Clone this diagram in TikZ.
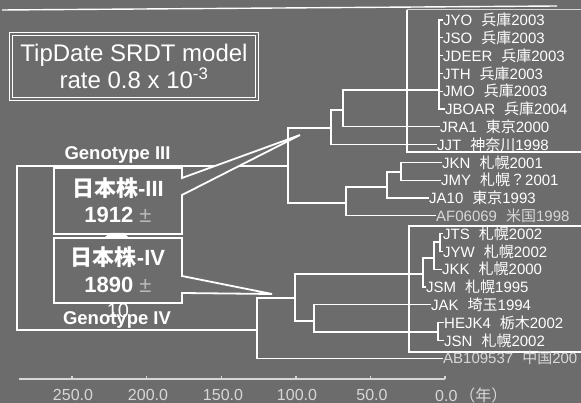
\documentclass[tikz,border=0pt]{standalone}
\usepackage{fontspec}
\setmainfont{Liberation Sans}
\newfontfamily\cjk{Noto Sans CJK JP}
\definecolor{bg}{RGB}{108,108,108}
\definecolor{pmc}{RGB}{185,185,185}
\definecolor{dim}{RGB}{215,215,215}
\newcommand{\gap}{\hspace{9pt}}
\begin{document}
\begin{tikzpicture}[x=1pt,y=-1pt,
  treeline/.style={draw=white, line width=1.1pt},
  boxline/.style={draw=white, line width=1.4pt},
  calloutbox/.style={draw=white, line width=1.8pt, fill=bg, line join=miter},
  leaf/.style={anchor=west, inner sep=0pt, text=white, font=\fontsize{15}{15}\selectfont},
  fadedleaf/.style={leaf, text=dim},
  geno/.style={text=white, inner sep=0pt, font=\fontsize{18.5}{18.5}\selectfont\bfseries},
  boxtext/.style={text=white, inner sep=0pt, font=\fontsize{22}{22}\selectfont\bfseries},
  axislabel/.style={text=dim, inner sep=0pt, font=\fontsize{16}{16}\selectfont},
]
\fill[bg] (0,0) rectangle (581,403);
\useasboundingbox (0,0) rectangle (581,403);

% top rule and clade frames
\draw[boxline] (2,10) -- (557,6);
\draw[boxline, draw=dim, line width=1pt] (407,10) -- (581,10);
\draw[boxline] (407,10) -- (407,152) -- (581,152);
\draw[boxline] (581,226) -- (409,226) -- (409,352) -- (581,352);

% leaves
\node[leaf] (l0) at (443,20) {JYO\gap{\cjk 兵庫}2003};
\node[leaf] (l1) at (443,37.8) {JSO\gap{\cjk 兵庫}2003};
\node[leaf] (l2) at (443,55.6) {JDEER\gap{\cjk 兵庫}2003};
\node[leaf] (l3) at (443,73.4) {JTH\gap{\cjk 兵庫}2003};
\node[leaf] (l4) at (443,91.2) {JMO\gap{\cjk 兵庫}2003};
\node[leaf] (l5) at (445,109) {JBOAR\gap{\cjk 兵庫}2004};
\node[leaf] (l6) at (440,126.8) {JRA1\gap{\cjk 東京}2000};
\node[leaf] (l7) at (437,144.6) {JJT\gap{\cjk 神奈川}1998};
\node[leaf] (l8) at (442,162.4) {JKN\gap{\cjk 札幌}2001};
\node[leaf] (l9) at (441,180.2) {JMY\gap{\cjk 札幌？}2001};
\node[leaf] (l10) at (429,198) {JA10\gap{\cjk 東京}1993};
\node[fadedleaf] (l11) at (436,215.8) {AF06069\gap{\cjk 米国}1998};
\node[leaf] (l12) at (443,233.6) {JTS\gap{\cjk 札幌}2002};
\node[leaf] (l13) at (443,251.4) {JYW\gap{\cjk 札幌}2002};
\node[leaf] (l14) at (442,269.2) {JKK\gap{\cjk 札幌}2000};
\node[leaf] (l15) at (426,287) {JSM\gap{\cjk 札幌}1995};
\node[leaf] (l16) at (431,304.8) {JAK\gap{\cjk 埼玉}1994};
\node[leaf] (l17) at (444,322.6) {HEJK4\gap{\cjk 栃木}2002};
\node[leaf] (l18) at (444,340.4) {JSN\gap{\cjk 札幌}2002};
\node[fadedleaf] (l19) at (443,358.2) {AB109537\gap{\cjk 中国}200};

% internal nodes
\coordinate (k) at (439,90);
\coordinate (a2) at (343,110);
\coordinate (a3) at (331,128);
\coordinate (a4) at (288,166);
\coordinate (b1) at (401,172);
\coordinate (b2) at (387,187);
\coordinate (b3) at (346,203);
\coordinate (c1) at (440,242);
\coordinate (c2) at (434,258);
\coordinate (c3) at (423,274);
\coordinate (e1) at (438,332);
\coordinate (e2) at (314,321);
\coordinate (e3) at (295,298);
\coordinate (d) at (257,330);
\coordinate (r) at (17,250);

% genotype III
\draw[treeline] (l0.west) -| (k);
\draw[treeline] (l5.west) -| (k);
\foreach \i in {1,2,3,4} \draw[treeline] (l\i.west) -- (l\i.west -| k);
\draw[treeline] (k) -| (a2) |- (l6.west);
\draw[treeline] (a2) -| (a3) |- (l7.west);
\draw[treeline] (l8.west) -| (b1) |- (l9.west);
\draw[treeline] (b1) -| (b2) |- (l10.west);
\draw[treeline] (b2) -| (b3) |- (l11.west);
\draw[treeline] (a3) -| (a4) |- (b3);
% genotype IV
\draw[treeline] (l12.west) -| (c1) |- (l13.west);
\draw[treeline] (c1) -| (c2) |- (l14.west);
\draw[treeline] (c2) -| (c3) |- (l15.west);
\draw[treeline] (l17.west) -| (e1) |- (l18.west);
\draw[treeline] (l16.west) -| (e2) |- (e1);
\draw[treeline] (c3) -| (e3) |- (e2);
\draw[treeline] (e3) -| (d) |- (l19.west);
% root
\draw[treeline] (a4) -| (r) |- (d);

% callout boxes
\draw[calloutbox] (54,168) -- (182,168) -- (182,178) -- (300,135) -- (182,195) -- (182,234) -- (54,234) -- cycle;
\draw[calloutbox] (54,238) -- (182,238) -- (182,276) -- (272,294) -- (182,293) -- (182,303) -- (54,303) -- cycle;
\node[boxtext] (g3a) at (118,188) {{\cjk\bfseries 日本株}-III};
\node[boxtext] (g3b) at (118,215) {1912 {\mdseries\color{pmc}±}};
\node[boxtext] (g4a) at (118,257) {{\cjk\bfseries 日本株}-IV};
\node[boxtext] (g4b) at (118,285) {1890 {\mdseries\color{pmc}±}};
\fill[white] (105,237) -- (128,237) -- (124,233) -- (110,233) -- cycle;

\node[geno] (gIII) at (117.5,155) {Genotype III};
\node[geno] (gIV) at (117,320) {Genotype IV};
\node[text=white, inner sep=0pt, font=\fontsize{20}{20}\selectfont] (ten) at (118,311) {10};

% title
\node[draw=white, line width=0.8pt, double=bg, double distance=1.6pt,
  minimum width=246pt, minimum height=65pt, inner sep=0pt, align=center,
  text=white, font=\fontsize{24}{27}\selectfont] (title) at (134,66.5)
  {TipDate SRDT model\\rate 0.8 x 10\textsuperscript{-3}};

% axis
\draw[boxline, draw=dim] (19,379) -- (445,379);
\foreach \x in {445,370.4,295.8,221.2,146.6,72} \draw[boxline, draw=dim] (\x,379) -- (\x,376);
\node[axislabel] (t250) at (73,395) {250.0};
\node[axislabel] (t200) at (148,395) {200.0};
\node[axislabel] (t150) at (223,395) {150.0};
\node[axislabel] (t100) at (297,395) {100.0};
\node[axislabel] (t50) at (372,395) {50.0};
\node[axislabel, anchor=west] (t0) at (435,395) {0.0\hspace{2pt}{\cjk （年）}};
\end{tikzpicture}
\end{document}
